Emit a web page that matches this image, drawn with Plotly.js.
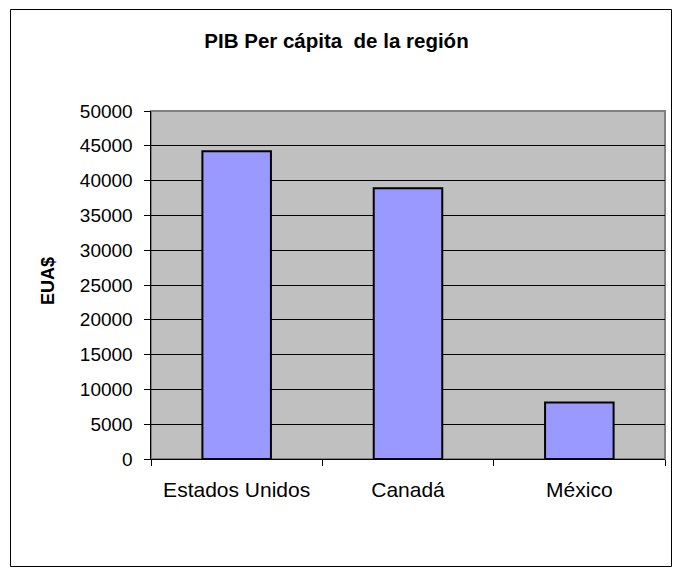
<!DOCTYPE html>
<html>
<head>
<meta charset="utf-8">
<script src="https://cdn.plot.ly/plotly-3.0.1.min.js"></script>
<style>html,body{margin:0;padding:0;background:#fff;}#chart{width:673px;height:568px;}</style>
</head>
<body>
<div id="chart"></div>
<script>
const categories = ["Estados Unidos", "Canadá", "México"];
const values = [44200, 38900, 8100];
const yTicks = [0, 5000, 10000, 15000, 20000, 25000, 30000, 35000, 40000, 45000, 50000];
const titleText = "PIB Per cápita\u00A0 de la región";
const yTitleText = "EUA$";

const font = "'Liberation Sans', Arial, sans-serif";

const L = 151, R = 665, T = 111, B = 459, W = 673, H = 568;
const pw = R - L, ph = B - T;
const px = v => (v - L) / pw;
const py = v => (B - v) / ph;

const trace = {
  type: 'bar',
  x: categories,
  y: values,
  marker: { color: '#9999FF', line: { color: '#000000', width: 2 } },
  hoverinfo: 'x+y'
};

const layout = {
  width: W, height: H,
  margin: { l: L, r: W - R, t: T, b: H - B, pad: 0 },
  paper_bgcolor: '#FFFFFF',
  plot_bgcolor: '#C0C0C0',
  bargap: 0.6,
  showlegend: false,
  font: { family: font, size: 19, color: '#000' },
  title: {
    text: titleText,
    font: { family: font, size: 20.5, color: '#000', weight: 'bold' },
    x: 0.5, xref: 'container', xanchor: 'center',
    y: 1 - 41 / H, yref: 'container', yanchor: 'middle'
  },
  xaxis: {
    type: 'category',
    showline: true, linecolor: '#000', linewidth: 1,
    ticks: 'outside', tickson: 'boundaries', ticklen: 6, tickcolor: '#000', tickwidth: 1,
    showgrid: false, zeroline: false,
    tickfont: { family: font, size: 21, color: '#000' },
    ticklabelstandoff: 12,
    automargin: false, fixedrange: true
  },
  yaxis: {
    range: [0, 50000],
    tickvals: yTicks,
    ticktext: yTicks.map(String),
    showline: true, linecolor: '#000', linewidth: 1.5,
    ticks: 'outside', ticklen: 6, tickcolor: '#000', tickwidth: 1,
    showgrid: true, gridcolor: '#000000', gridwidth: 1,
    zeroline: false,
    tickfont: { family: font, size: 19, color: '#000' },
    ticklabelstandoff: 7,
    automargin: false, fixedrange: true
  },
  annotations: [{
    text: yTitleText,
    xref: 'paper', yref: 'paper',
    x: px(48), y: py(281),
    xanchor: 'center', yanchor: 'middle',
    textangle: -90, showarrow: false,
    font: { family: font, size: 18, color: '#000', weight: 'bold' }
  }],
  shapes: [
    { type: 'rect', xref: 'paper', yref: 'paper', x0: 0, x1: 1, y0: 0, y1: 1,
      line: { color: '#808080', width: 2 }, layer: 'below' },
    { type: 'rect', xref: 'paper', yref: 'paper',
      x0: px(10.5), x1: px(671.5), y0: py(566.5), y1: py(9.5),
      line: { color: '#000', width: 1 }, fillcolor: 'rgba(0,0,0,0)', layer: 'above' }
  ]
};

Plotly.newPlot('chart', [trace], layout, { displayModeBar: false, staticPlot: true });
</script>
</body>
</html>
